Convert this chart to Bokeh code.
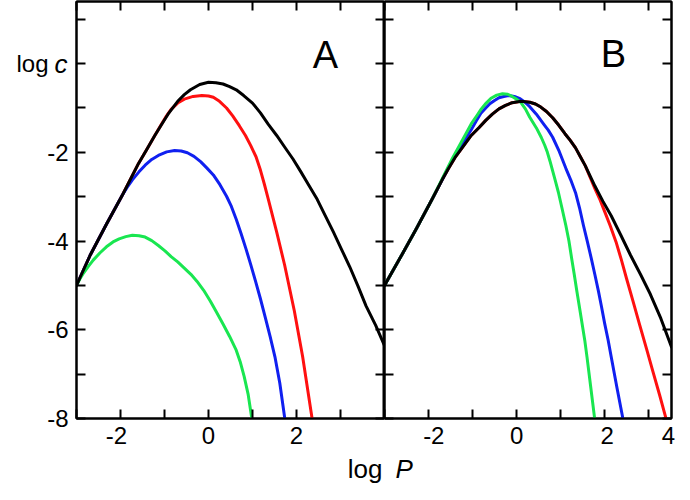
from bokeh.plotting import figure
from bokeh.models import FixedTicker, LinearAxis, Label, Range1d
from bokeh.layouts import row
from bokeh.embed import file_html
from bokeh.resources import INLINE

FONT = "Liberation Sans"

# ---------------- data (log P, log c) ----------------
# Panel A
a_black_x = [-3.0, -2.69, -2.32, -1.95, -1.59, -1.4, -1.22, -1.07, -0.92, -0.8, -0.70, -0.55, -0.41, -0.2, 0.0, 0.17, 0.33, 0.48, 0.63, 0.8, 1.0, 1.18, 1.36, 1.55, 1.73, 1.92, 2.10, 2.28, 2.47, 2.65, 2.84, 3.02, 3.21, 3.4, 3.58, 3.8, 4.0]
a_black_y = [-5.0, -4.32, -3.62, -2.95, -2.25, -1.93, -1.62, -1.38, -1.14, -0.98, -0.85, -0.70, -0.59, -0.47, -0.42, -0.43, -0.46, -0.52, -0.59, -0.72, -0.89, -1.11, -1.37, -1.62, -1.88, -2.15, -2.44, -2.74, -3.06, -3.42, -3.80, -4.18, -4.58, -5.02, -5.46, -5.9, -6.36]
a_red_x = [-3.0, -2.69, -2.32, -1.95, -1.59, -1.4, -1.22, -1.07, -0.95, -0.85, -0.7, -0.55, -0.35, -0.15, 0.0, 0.11, 0.25, 0.41, 0.55, 0.70, 0.84, 0.96, 1.08, 1.18, 1.27, 1.36, 1.55, 1.73, 1.95, 2.14, 2.35]
a_red_y = [-5.0, -4.32, -3.62, -2.95, -2.25, -1.93, -1.62, -1.37, -1.17, -1.03, -0.89, -0.80, -0.74, -0.72, -0.73, -0.76, -0.85, -1.0, -1.18, -1.40, -1.62, -1.85, -2.1, -2.40, -2.72, -3.06, -3.80, -4.54, -5.57, -6.61, -7.97]
a_blue_x = [-3.0, -2.69, -2.32, -1.95, -1.85, -1.73, -1.58, -1.44, -1.29, -1.14, -0.95, -0.77, -0.62, -0.48, -0.33, -0.18, -0.04, 0.11, 0.26, 0.41, 0.52, 0.63, 0.74, 0.85, 0.96, 1.07, 1.18, 1.29, 1.40, 1.51, 1.62, 1.73]
a_blue_y = [-5.0, -4.32, -3.62, -2.95, -2.79, -2.62, -2.44, -2.29, -2.16, -2.07, -1.99, -1.96, -1.97, -2.01, -2.09, -2.21, -2.35, -2.51, -2.73, -2.99, -3.22, -3.51, -3.83, -4.17, -4.53, -4.91, -5.3, -5.72, -6.15, -6.61, -7.2, -7.97]
a_green_x = [-3.0, -2.92, -2.84, -2.73, -2.62, -2.47, -2.32, -2.17, -2.03, -1.88, -1.73, -1.58, -1.44, -1.29, -1.14, -0.99, -0.85, -0.7, -0.55, -0.4, -0.26, -0.11, 0.04, 0.18, 0.33, 0.48, 0.63, 0.72, 0.81, 0.9, 0.98]
a_green_y = [-5.0, -4.85, -4.72, -4.57, -4.43, -4.27, -4.13, -4.02, -3.95, -3.9, -3.87, -3.88, -3.91, -3.99, -4.10, -4.22, -4.35, -4.47, -4.61, -4.75, -4.91, -5.11, -5.35, -5.6, -5.87, -6.15, -6.46, -6.72, -7.05, -7.45, -7.97]

# Panel B
b_black_x = [-3.0, -2.65, -2.28, -1.91, -1.69, -1.55, -1.4, -1.2, -1.03, -0.85, -0.7, -0.55, -0.4, -0.25, -0.1, 0.1, 0.3, 0.43, 0.55, 0.68, 0.82, 0.96, 1.1, 1.22, 1.34, 1.45, 1.56, 1.67, 1.78, 1.96, 2.15, 2.37, 2.59, 2.82, 3.04, 3.28, 3.52]
b_black_y = [-5.0, -4.39, -3.73, -3.04, -2.62, -2.37, -2.12, -1.85, -1.62, -1.44, -1.28, -1.14, -1.02, -0.94, -0.88, -0.85, -0.87, -0.91, -0.98, -1.08, -1.22, -1.39, -1.58, -1.73, -1.9, -2.1, -2.3, -2.53, -2.76, -3.1, -3.43, -3.87, -4.32, -4.76, -5.2, -5.75, -6.39]
b_red_x = [-3.0, -2.65, -2.28, -1.91, -1.69, -1.55, -1.4, -1.2, -1.03, -0.85, -0.7, -0.55, -0.4, -0.25, -0.1, 0.1, 0.3, 0.43, 0.55, 0.68, 0.82, 0.96, 1.1, 1.22, 1.34, 1.45, 1.56, 1.67, 1.78, 1.9, 2.0, 2.13, 2.26, 2.38, 2.5, 2.65, 2.8, 2.95, 3.1, 3.25, 3.39]
b_red_y = [-5.0, -4.39, -3.73, -3.04, -2.62, -2.37, -2.12, -1.85, -1.62, -1.44, -1.28, -1.14, -1.02, -0.94, -0.88, -0.85, -0.87, -0.91, -0.98, -1.08, -1.22, -1.39, -1.58, -1.73, -1.9, -2.1, -2.3, -2.56, -2.82, -3.08, -3.33, -3.66, -4.02, -4.42, -4.85, -5.37, -5.9, -6.42, -6.95, -7.47, -7.98]
b_blue_x = [-3.0, -2.65, -2.28, -1.91, -1.69, -1.55, -1.4, -1.2, -1.03, -0.92, -0.81, -0.7, -0.6, -0.5, -0.4, -0.29, -0.18, -0.05, 0.08, 0.19, 0.3, 0.45, 0.62, 0.72, 0.82, 0.97, 1.12, 1.23, 1.34, 1.43, 1.52, 1.61, 1.7, 1.78, 1.86, 1.93, 2.0, 2.08, 2.15, 2.28, 2.41]
b_blue_y = [-5.0, -4.39, -3.73, -3.04, -2.62, -2.35, -2.08, -1.76, -1.49, -1.3, -1.12, -1.0, -0.9, -0.83, -0.77, -0.74, -0.72, -0.74, -0.79, -0.87, -0.97, -1.14, -1.37, -1.5, -1.66, -1.98, -2.36, -2.62, -2.91, -3.25, -3.65, -4.02, -4.4, -4.76, -5.13, -5.48, -5.85, -6.23, -6.61, -7.3, -7.97]
b_green_x = [-3.0, -2.65, -2.28, -1.91, -1.75, -1.6, -1.45, -1.3, -1.16, -1.03, -0.9, -0.8, -0.69, -0.58, -0.45, -0.32, -0.2, -0.1, 0.0, 0.1, 0.2, 0.3, 0.45, 0.56, 0.64, 0.7, 0.76, 0.82, 0.88, 0.95, 1.03, 1.12, 1.19, 1.25, 1.31, 1.37, 1.43, 1.49, 1.55, 1.6, 1.68, 1.77]
b_green_y = [-5.0, -4.39, -3.73, -3.04, -2.72, -2.42, -2.12, -1.85, -1.6, -1.36, -1.17, -1.02, -0.89, -0.78, -0.71, -0.68, -0.69, -0.74, -0.8, -0.88, -1.02, -1.21, -1.45, -1.66, -1.84, -2.0, -2.2, -2.42, -2.64, -2.9, -3.25, -3.65, -4.0, -4.38, -4.75, -5.13, -5.5, -5.87, -6.24, -6.61, -7.25, -7.97]

# ticks / labels
y_minor = [-8, -7, -6, -5, -4, -3, -2, -1, 0, 1]
y_labels = {-8: "-8", -6: "-6", -4: "-4", -2: "-2", 0: "log\u00a0\u00a0\u00a0"}
a_x_minor = [-3, -2, -1, 0, 1, 2, 3, 4]
a_x_labels = {-2.09: "-2", 0.0: "0", 2.0: "2"}
b_x_minor = [-3, -2, -1, 0, 1, 2, 3]
b_x_labels = {-1.88: "-2", 0.0: "0", 2.06: "2", 3.45: "4"}

GREEN = "#19e650"
RED = "#ff1010"
BLUE = "#1020f0"

FRAME_H = 417
Y_TOP = 1.4


def add_axis(p, loc, minor, labels=None):
    labels = labels or {}
    ticks = list(labels.keys())
    ax = LinearAxis(ticker=FixedTicker(ticks=ticks, minor_ticks=list(minor)))
    ax.major_label_overrides = dict(labels)
    ax.axis_line_width = 2
    ax.axis_line_color = "black"
    ax.major_tick_in = 0
    ax.major_tick_out = 0
    ax.minor_tick_in = 9
    ax.minor_tick_out = 0
    ax.minor_tick_line_width = 2
    ax.minor_tick_line_color = "black"
    ax.major_label_text_font = FONT
    ax.major_label_text_font_size = "24px"
    ax.major_label_text_color = "black"
    ax.major_label_standoff = 8 if labels else 0
    p.add_layout(ax, loc)
    return ax


def make_fig(x_end, fw, bl, br):
    p = figure(x_range=Range1d(-3, x_end), y_range=Range1d(-8, Y_TOP),
               frame_width=fw, frame_height=FRAME_H,
               min_border_left=bl, min_border_right=br,
               min_border_top=1, min_border_bottom=66,
               output_backend="svg", toolbar_location=None, title=None,
               x_axis_location=None, y_axis_location=None)
    p.xgrid.visible = False
    p.ygrid.visible = False
    p.outline_line_color = "black"
    p.outline_line_width = 2
    p.background_fill_color = "white"
    p.border_fill_color = "white"
    return p


def curves(p, data):
    for xs, ys, col in data:
        p.line(xs, ys, line_color=col, line_width=3, line_join="round", line_cap="round")


def txt(text, x, y, size, align, baseline="alphabetic", style="normal"):
    return Label(x=x, y=y, text=text, text_align=align, text_baseline=baseline,
                 text_font=FONT, text_font_size=size, text_font_style=style,
                 text_color="black")


# ---------------- panel A ----------------
pA = make_fig(4, 308, 72, 0)
add_axis(pA, "below", a_x_minor, a_x_labels)
add_axis(pA, "above", a_x_minor)
add_axis(pA, "left", y_minor, y_labels)
add_axis(pA, "right", y_minor)
curves(pA, [(a_red_x, a_red_y, RED), (a_blue_x, a_blue_y, BLUE),
            (a_green_x, a_green_y, GREEN), (a_black_x, a_black_y, "black")])

pA.add_layout(txt("A", 2.66, 0.2, "38px", "center"))
# axis-title pieces outside the frame live in side panels so they are not clipped
pA.add_layout(txt("c", -3.205, 0.0, "26px", "right", "middle", "italic"), "left")
pA.add_layout(txt("log", 3.955, -9.13, "26px", "right"), "below")

# ---------------- panel B ----------------
pB = make_fig(3.52, 287, 0, 6)
add_axis(pB, "below", b_x_minor, b_x_labels)
add_axis(pB, "above", b_x_minor)
add_axis(pB, "left", y_minor)
add_axis(pB, "right", y_minor)
curves(pB, [(b_red_x, b_red_y, RED), (b_blue_x, b_blue_y, BLUE),
            (b_green_x, b_green_y, GREEN), (b_black_x, b_black_y, "black")])

pB.add_layout(txt("B", 2.2, 0.22, "38px", "center"))
pB.add_layout(txt("P", -2.75, -9.13, "26px", "left", "alphabetic", "italic"), "below")

layout = row(pA, pB)
open("out.html", "w").write(file_html(layout, INLINE))
